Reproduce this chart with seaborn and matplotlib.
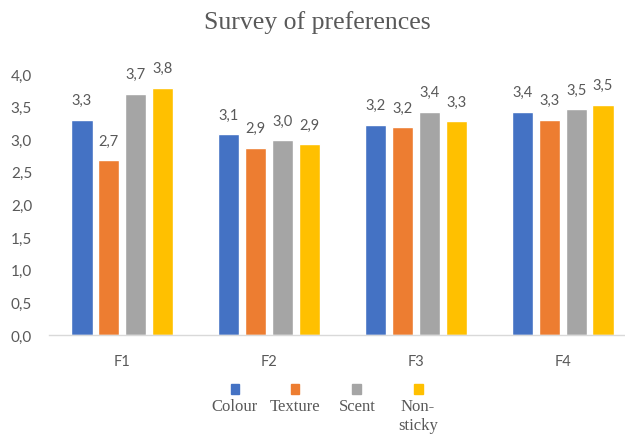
import matplotlib
matplotlib.use("Agg")
import matplotlib.pyplot as plt
import seaborn as sns
import pandas as pd
from matplotlib.patches import Rectangle

categories = ["F1", "F2", "F3", "F4"]
series = ["Colour", "Texture", "Scent", "Non-sticky"]
legend_labels = ["Colour", "Texture", "Scent", "Non-\nsticky"]
colour = [3.30, 3.08, 3.22, 3.42]
texture = [2.68, 2.87, 3.18, 3.30]
scent = [3.70, 2.99, 3.42, 3.46]
nonsticky = [3.79, 2.92, 3.28, 3.53]
yticks = [0.0, 0.5, 1.0, 1.5, 2.0, 2.5, 3.0, 3.5, 4.0]
colors = ["#4472C4", "#ED7D31", "#A5A5A5", "#FFC000"]

rows = []
for s, vals in zip(series, [colour, texture, scent, nonsticky]):
    for c, v in zip(categories, vals):
        rows.append({"cat": c, "series": s, "value": v})
df = pd.DataFrame(rows)

sns.set_theme(style="white")
plt.rcParams["font.family"] = ["Lato", "DejaVu Sans"]
txt = "#595959"

fig = plt.figure(figsize=(6.25, 4.35), dpi=100)
ax = fig.add_axes([0.078, 0.2276, 0.94, 0.60])
sns.barplot(data=df, x="cat", y="value", hue="series", hue_order=series,
            order=categories, palette=colors, width=0.73, gap=0.21,
            saturation=1, ax=ax, legend=False)
ax.set_xlim(-0.5, 3.5)
ax.set_ylim(0, 4.0)
ax.set_yticks(yticks)
ax.set_yticklabels([f"{t:.1f}".replace(".", ",") for t in yticks], color=txt, fontsize=11)
ax.tick_params(axis="x", colors=txt, labelsize=10.5, pad=14, length=0)
ax.tick_params(axis="y", length=0, pad=12)
ax.set_xlabel("")
ax.set_ylabel("")
for sp in ["top", "right", "left"]:
    ax.spines[sp].set_visible(False)
ax.spines["bottom"].set_color("#D9D9D9")
ax.spines["bottom"].set_linewidth(1)

for cont in ax.containers:
    for bar in cont:
        h = bar.get_height()
        ax.annotate(f"{h:.1f}".replace(".", ","),
                    (bar.get_x() + bar.get_width() / 2, h),
                    xytext=(0, 9), textcoords="offset points",
                    ha="center", va="bottom", fontsize=10.5, color=txt,
                    annotation_clip=False)

fig.text(0.507, 0.948, "Survey of preferences", ha="center", va="center",
         fontsize=18.5, color=txt, family=["Liberation Serif"])

# legend: marker above label
leg_x = [0.376, 0.472, 0.571, 0.669]
for x, lab, col in zip(leg_x, legend_labels, colors):
    fig.patches.append(Rectangle((x - 0.007, 0.092), 0.014, 0.023,
                                 transform=fig.transFigure, color=col))
    fig.text(x, 0.082, lab, ha="center", va="top", fontsize=12,
             color=txt, family=["Liberation Serif"], linespacing=1.25)

fig.savefig("out.png", dpi=100)
